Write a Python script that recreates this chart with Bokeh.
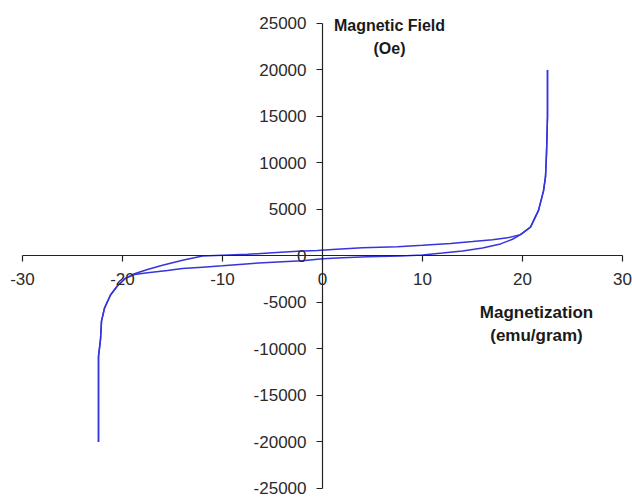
from bokeh.plotting import figure
from bokeh.models import Range1d, FixedTicker, Label, CustomJSTickFormatter
from bokeh.embed import file_html
from bokeh.resources import INLINE

# Descending branch (from +H saturation to -H saturation)
upper_x = [22.5, 22.5, 22.4, 22.3, 22.1, 21.6, 20.8, 19.8, 18.5, 17.0, 15.0, 12.8, 10.0, 7.5,
           4.0, 1.0, -0.5, -2.5, -5.0, -7.5, -10.0, -12.0, -14.0, -16.0, -17.5, -18.8,
           -19.7, -20.5, -21.2, -21.8, -22.1, -22.2, -22.4, -22.4]
upper_y = [20000, 15000, 11000, 8500, 7000, 4900, 3100, 2300, 1950, 1750, 1550, 1350, 1150, 1000,
           900, 700, 600, 520, 350, 180, 80, 0, -450, -1000, -1450, -1900,
           -2400, -3200, -4200, -5600, -7000, -9000, -10800, -20000]

# Ascending branch (from -H saturation back to +H saturation)
lower_x = [-22.4, -22.4, -22.2, -22.1, -21.8, -21.2, -20.5, -19.7, -18.8, -17.5, -15.5, -14.0,
           -12.0, -10.0, -7.0, -4.0, -2.0, 0.0, 2.0, 4.5, 7.8, 10.0, 12.0, 14.0, 16.0, 17.8,
           19.0, 19.8, 20.8, 21.6, 22.1, 22.3, 22.4, 22.5, 22.5]
lower_y = [-20000, -10800, -9000, -7000, -5600, -4200, -3200, -2400, -2000, -1800, -1550, -1350,
           -1200, -1050, -800, -620, -520, -300, -180, -70, 0, 120, 320, 550, 850, 1300,
           1800, 2300, 3100, 4900, 7000, 8500, 11000, 15000, 20000]

x_ticks = [-30, -20, -10, 0, 10, 20, 30]
y_ticks = [-25000, -20000, -15000, -10000, -5000, 0, 5000, 10000, 15000, 20000, 25000]

y_title = ["Magnetic Field", "(Oe)"]
x_title = ["Magnetization", "(emu/gram)"]

# frame covers the whole canvas; axes are bounded to the data span
p = figure(width=632, height=497, output_backend="svg", toolbar_location=None,
           x_range=Range1d(-32.2, 31.0), y_range=Range1d(-25968, 27473),
           min_border_left=0, min_border_right=0, min_border_top=0, min_border_bottom=0)
p.outline_line_color = None
p.grid.visible = False
p.background_fill_color = "white"
p.border_fill_color = "white"

fmt = CustomJSTickFormatter(code="return tick.toString();")
for ax in (p.xaxis[0], p.yaxis[0]):
    ax.fixed_location = 0
    ax.axis_line_color = "#222222"
    ax.axis_line_width = 1.2
    ax.major_tick_line_color = "#222222"
    ax.major_tick_line_width = 1.2
    ax.major_tick_in = 0
    ax.major_tick_out = 6
    ax.minor_tick_line_color = None
    ax.major_label_text_font = "Liberation Sans"
    ax.major_label_text_font_size = "17px"
    ax.major_label_text_color = "#2a2a2a"
    ax.formatter = fmt

p.xaxis.bounds = (-30, 30)
p.yaxis.bounds = (-25000, 25000)
p.xaxis.ticker = FixedTicker(ticks=x_ticks)
p.yaxis.ticker = FixedTicker(ticks=y_ticks)
p.xaxis.major_label_standoff = 11
p.yaxis.major_label_standoff = 10

p.line(upper_x, upper_y, line_color="#3535dd", line_width=1.5)
p.line(lower_x, lower_y, line_color="#3535dd", line_width=1.5)

def add_title(lines, x, ys, size):
    for t, y in zip(lines, ys):
        p.add_layout(Label(x=x, y=y, text=t, text_align="center", text_baseline="middle",
                           text_font="Liberation Sans", text_font_style="bold",
                           text_font_size=size, text_color="#1a1a1a"))

add_title(y_title, 6.7, [24800, 22300], "16px")
add_title(x_title, 21.4, [-6100, -8600], "17px")

open("out.html", "w").write(file_html(p, INLINE))
